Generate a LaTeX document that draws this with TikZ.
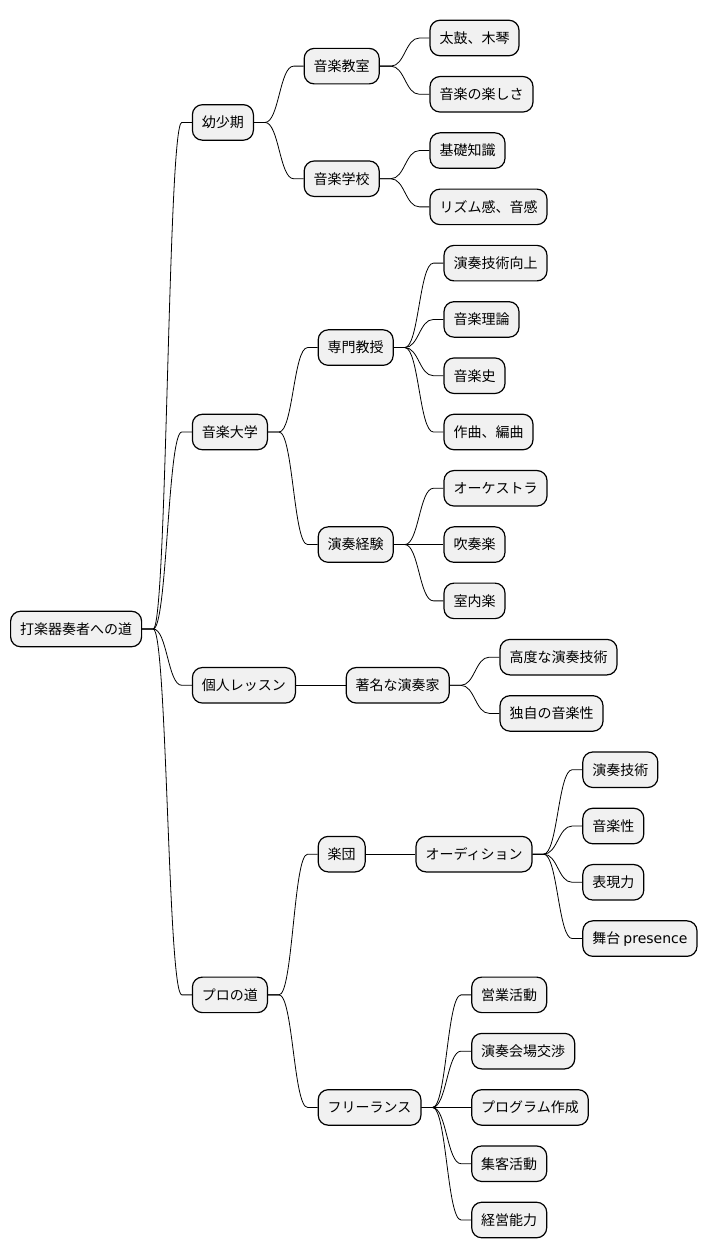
\documentclass[tikz,border=0pt]{standalone}
\usepackage{fontspec}
\setmainfont{DejaVu Sans}
\newfontfamily\cjkfont{Noto Sans CJK JP}
\newfontfamily\latinfont{DejaVu Sans}
\usepackage{tikz}
\usetikzlibrary{positioning}

\definecolor{boxfill}{HTML}{F1F1F1}

\begin{document}
\begin{tikzpicture}[
    x=1pt, y=1pt,
    node distance=49.6pt,
    box/.style={draw, line width=1.2pt, rectangle, rounded corners=10pt, fill=boxfill, minimum height=35.5pt, inner xsep=9.5pt, inner ysep=0pt, font=\cjkfont\fontsize{14pt}{16pt}\selectfont},
    link/.style={line width=0.8pt, to path={-- ++(11pt,0) .. controls +(14pt,0) and ([xshift=-24pt]\tikztotarget.west) .. ([xshift=-10pt]\tikztotarget.west) -- (\tikztotarget.west)}}
]
    \useasboundingbox (0,0) rectangle (711,-1259);

    % Root
    \node[box, anchor=west] (root) at (10,-629) {打楽器奏者への道};

    % First level
    \node[box, right=of root, yshift=506.57pt] (child) {幼少期};
    \node[box, right=of root, yshift=197pt] (univ) {音楽大学};
    \node[box, right=of root, yshift=-56.29pt] (lesson) {個人レッスン};
    \node[box, right=of root, yshift=-365.86pt] (pro) {プロの道};

    % Childhood
    \node[box, right=of child, yshift=56.29pt] (school1) {音楽教室};
    \node[box, right=of child, yshift=-56.29pt] (school2) {音楽学校};
    \node[box, right=of school1, yshift=28.14pt] (drum) {太鼓、木琴};
    \node[box, right=of school1, yshift=-28.14pt] (fun) {音楽の楽しさ};
    \node[box, right=of school2, yshift=28.14pt] (basics) {基礎知識};
    \node[box, right=of school2, yshift=-28.14pt] (rhythm) {リズム感、音感};

    % University
    \node[box, right=of univ, yshift=84.43pt] (prof) {専門教授};
    \node[box, right=of univ, yshift=-112.57pt] (perf) {演奏経験};
    \node[box, right=of prof, yshift=84.43pt] (skill) {演奏技術向上};
    \node[box, right=of prof, yshift=28.14pt] (theory) {音楽理論};
    \node[box, right=of prof, yshift=-28.14pt] (history) {音楽史};
    \node[box, right=of prof, yshift=-84.43pt] (compose) {作曲、編曲};
    \node[box, right=of perf, yshift=56.29pt] (orch) {オーケストラ};
    \node[box, right=of perf] (wind) {吹奏楽};
    \node[box, right=of perf, yshift=-56.29pt] (chamber) {室内楽};

    % Private lessons
    \node[box, right=of lesson] (master) {著名な演奏家};
    \node[box, right=of master, yshift=28.14pt] (advanced) {高度な演奏技術};
    \node[box, right=of master, yshift=-28.14pt] (musicality) {独自の音楽性};

    % Professional
    \node[box, right=of pro, yshift=140.71pt] (band) {楽団};
    \node[box, right=of pro, yshift=-112.57pt] (free) {フリーランス};
    \node[box, right=of band] (audition) {オーディション};
    \node[box, right=of audition, yshift=84.43pt] (tech) {演奏技術};
    \node[box, right=of audition, yshift=28.14pt] (music) {音楽性};
    \node[box, right=of audition, yshift=-28.14pt] (expr) {表現力};
    \node[box, right=of audition, yshift=-84.43pt] (stage) {舞台 {\latinfont presence}};
    \node[box, right=of free, yshift=112.57pt] (sales) {営業活動};
    \node[box, right=of free, yshift=56.29pt] (venue) {演奏会場交渉};
    \node[box, right=of free] (program) {プログラム作成};
    \node[box, right=of free, yshift=-56.29pt] (audience) {集客活動};
    \node[box, right=of free, yshift=-112.57pt] (manage) {経営能力};

    % Links
    \foreach \a/\b in {root/child, root/univ, root/lesson, root/pro,
        child/school1, child/school2, school1/drum, school1/fun, school2/basics, school2/rhythm,
        univ/prof, univ/perf, prof/skill, prof/theory, prof/history, prof/compose,
        perf/orch, perf/wind, perf/chamber,
        lesson/master, master/advanced, master/musicality,
        pro/band, pro/free, band/audition,
        audition/tech, audition/music, audition/expr, audition/stage,
        free/sales, free/venue, free/program, free/audience, free/manage}
        \draw[link] (\a.east) to (\b);

\end{tikzpicture}
\end{document}
